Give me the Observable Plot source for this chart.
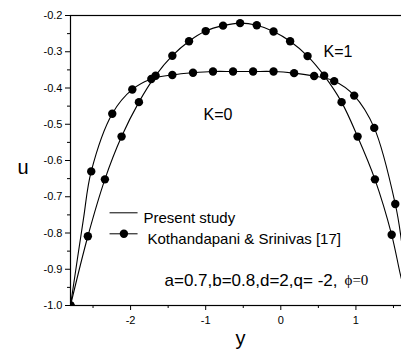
<!DOCTYPE html>
<html><head><meta charset="utf-8">
<script src="https://cdn.jsdelivr.net/npm/d3@7"></script>
<script src="https://cdn.jsdelivr.net/npm/@observablehq/plot@0.6"></script>
<style>
html,body{margin:0;padding:0;background:#fff;overflow:hidden;width:401px;height:358px;}
#chart{width:401px;height:358px;overflow:hidden;}
#chart svg{max-width:none !important;}
</style></head><body><div id="chart"></div>
<script>
// Kothandapani & Srinivas markers, K=0
const kx0 = [-2.8, -2.524, -2.244, -1.977, -1.724, -1.444, -1.169, -0.903, -0.636, -0.369, -0.097, 0.177, 0.444, 0.711, 0.977, 1.244, 1.524];
const ku0 = [-1.0, -0.630, -0.471, -0.404, -0.375, -0.364, -0.358, -0.3545, -0.3545, -0.3545, -0.3545, -0.359, -0.367, -0.381, -0.421, -0.510, -0.720];
// Kothandapani & Srinivas markers, K=1
const kx1 = [-2.8, -2.569, -2.342, -2.12, -1.889, -1.667, -1.444, -1.222, -1.0, -0.769, -0.542, -0.32, -0.097, 0.124, 0.356, 0.577, 0.809, 1.022, 1.253, 1.476];
const ku1 = [-1.0, -0.809, -0.652, -0.534, -0.439, -0.366, -0.311, -0.271, -0.243, -0.228, -0.221, -0.227, -0.244, -0.271, -0.312, -0.366, -0.439, -0.534, -0.652, -0.805];
// Present study curves
const px0 = [-2.8, -2.631, -2.524, -2.244, -1.977, -1.724, -1.444, -1.169, -0.903, -0.636, -0.369, -0.097, 0.177, 0.444, 0.711, 0.977, 1.244, 1.524, 1.6, 1.7];
const pu0 = [-1.0, -0.766, -0.630, -0.471, -0.404, -0.375, -0.364, -0.358, -0.3545, -0.3545, -0.3545, -0.3545, -0.359, -0.367, -0.381, -0.421, -0.510, -0.720, -0.812, -1.0];
const px1 = [-2.8, -2.569, -2.342, -2.12, -1.889, -1.667, -1.444, -1.222, -1.0, -0.769, -0.542, -0.32, -0.097, 0.124, 0.356, 0.577, 0.809, 1.022, 1.253, 1.476, 1.6, 1.7];
const pu1 = [-1.0, -0.809, -0.652, -0.534, -0.439, -0.366, -0.311, -0.271, -0.243, -0.228, -0.221, -0.227, -0.244, -0.271, -0.312, -0.366, -0.439, -0.534, -0.652, -0.805, -0.922, -1.0];

const yTicks = [-1.0, -0.9, -0.8, -0.7, -0.6, -0.5, -0.4, -0.3, -0.2];
const yTickLabels = ["-1.0", "-0.9", "-0.8", "-0.7", "-0.6", "-0.5", "-0.4", "-0.3", "-0.2"];
const yMinor = [-0.95, -0.85, -0.75, -0.65, -0.55, -0.45, -0.35, -0.25];
const xTicks = [-2, -1, 0, 1];
const xTickLabels = ["-2", "-1", "0", "1"];
const xMinor = [-2.5, -1.5, -0.5, 0.5, 1.5];
const seriesLabels = ["K=0", "K=1"];
const legendLabels = ["Present study", "Kothandapani & Srinivas [17]"];
const paramText = "a=0.7,b=0.8,d=2,q= -2, ";
const phiText = "\u03D5=0";
const xLabel = "y";
const yLabel = "u";

const markers = [
  ...kx0.map((x, i) => ({x, u: ku0[i], k: seriesLabels[0]})),
  ...kx1.map((x, i) => ({x, u: ku1[i], k: seriesLabels[1]}))
];
const present = [
  ...px0.map((x, i) => ({x, u: pu0[i], k: seriesLabels[0]})),
  ...px1.map((x, i) => ({x, u: pu1[i], k: seriesLabels[1]}))
];

const SANS = "'Liberation Sans', Arial, sans-serif";
const plot = Plot.plot({
  width: 428, height: 358,
  marginLeft: 70, marginRight: 20, marginTop: 15, marginBottom: 53,
  x: {domain: [-2.8, 1.7]},
  y: {domain: [-1.0, -0.2]},
  style: {fontFamily: SANS, background: "white", color: "black", maxWidth: "none"},
  marks: [
    Plot.axisY({ticks: yTicks, tickSize: 5, tickPadding: 3, fontSize: 11, label: null,
      tickFormat: d => yTickLabels[yTicks.indexOf(d)]}),
    Plot.axisY({ticks: yMinor, tickSize: 3, tickFormat: () => "", label: null}),
    Plot.axisX({ticks: xTicks, tickSize: 5, tickPadding: 6, fontSize: 11, label: null,
      tickFormat: d => xTickLabels[xTicks.indexOf(d)]}),
    Plot.axisX({ticks: xMinor, tickSize: 3, tickFormat: () => "", label: null}),
    Plot.frame({stroke: "black", strokeWidth: 1.2}),
    Plot.line(present, {x: "x", y: "u", z: "k", curve: "catmull-rom", stroke: "black", strokeWidth: 1.1, clip: true}),
    Plot.dot(markers, {x: "x", y: "u", r: 4.2, fill: "black", stroke: "none", clip: true}),
    // curve labels
    Plot.text([seriesLabels[1]], {frameAnchor: "top-left", dx: 253, dy: 29.9, textAnchor: "start", fontSize: 16}),
    Plot.text([seriesLabels[0]], {frameAnchor: "top-left", dx: 133, dy: 92.9, textAnchor: "start", fontSize: 16}),
    // legend
    Plot.link([0], {x1: -2.28, x2: -1.907, y1: -0.7443, y2: -0.7443, stroke: "black", strokeWidth: 1}),
    Plot.link([0], {x1: -2.28, x2: -1.907, y1: -0.8022, y2: -0.8022, stroke: "black", strokeWidth: 1}),
    Plot.dot([0], {x: -2.089, y: -0.8022, r: 4.2, fill: "black", stroke: "none"}),
    Plot.text([legendLabels[0]], {frameAnchor: "top-left", dx: 73, dy: 196.7, textAnchor: "start", fontSize: 15}),
    Plot.text([legendLabels[1]], {frameAnchor: "top-left", dx: 77, dy: 218.2, textAnchor: "start", fontSize: 15}),
    Plot.text([paramText], {frameAnchor: "top-left", dx: 94, dy: 258.6, textAnchor: "start", fontSize: 17}),
    Plot.text([phiText], {frameAnchor: "top-left", dx: 274, dy: 259.2, textAnchor: "start", fontSize: 15, fontFamily: "'Liberation Serif', 'Times New Roman', serif"}),
    // axis titles
    Plot.text([yLabel], {frameAnchor: "left", dx: -53, dy: 7.5, fontSize: 20}),
    Plot.text([xLabel], {frameAnchor: "bottom", dx: 1, dy: 39.6, fontSize: 20})
  ]
});
document.getElementById("chart").appendChild(plot);
</script></body></html>
